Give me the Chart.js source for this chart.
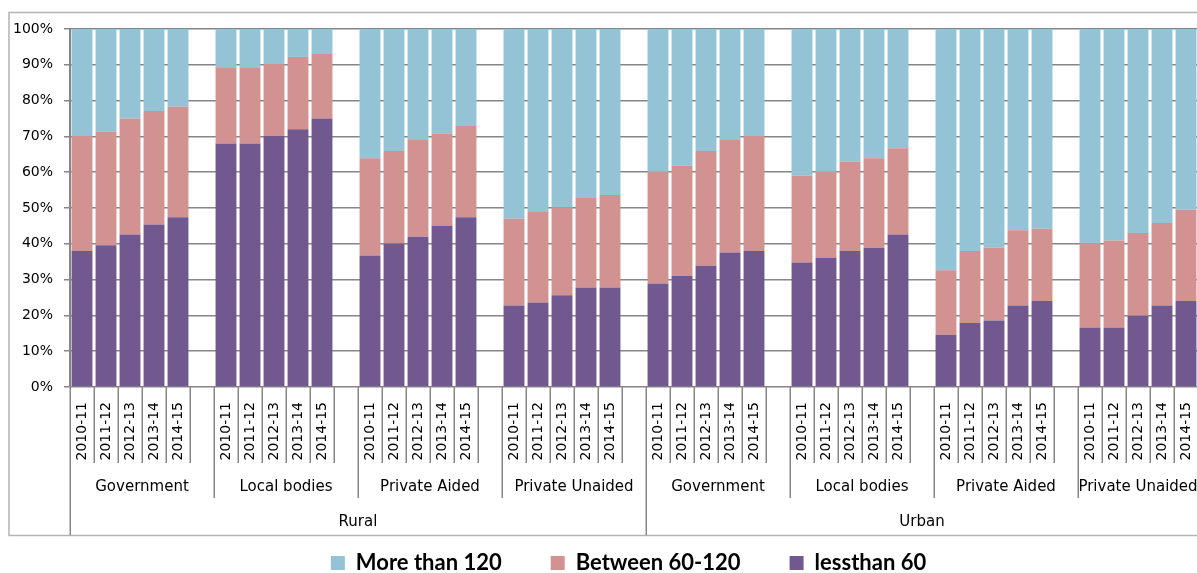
<!DOCTYPE html>
<html>
<head>
<meta charset="utf-8">
<script src="https://cdn.jsdelivr.net/npm/chart.js@4/dist/chart.umd.min.js"></script>
<style>
  html, body { margin: 0; padding: 0; background: #fff; overflow: hidden; }
  #wrap { width: 1257px; height: 584px; }
</style>
</head>
<body>
<div id="wrap"><canvas id="chart" width="1257" height="584"></canvas></div>
<script>
// Category levels
const years = ['2010-11', '2011-12', '2012-13', '2013-14', '2014-15'];
const sectors = ['Government', 'Local bodies', 'Private Aided', 'Private Unaided',
                 'Government', 'Local bodies', 'Private Aided', 'Private Unaided'];
const areas = ['Rural', 'Urban'];
const yTicks = [0, 10, 20, 30, 40, 50, 60, 70, 80, 90, 100];

// Shares in %, 5 years per sector, in the sector order above
const lessThan60 = [
  38.0, 39.6, 42.6, 45.4, 47.4,
  68.0, 68.0, 70.1, 72.0, 75.0,
  36.7, 40.1, 42.0, 45.0, 47.4,
  22.8, 23.6, 25.6, 27.8, 27.8,
  28.9, 31.0, 33.9, 37.6, 38.0,
  34.8, 36.0, 38.0, 38.9, 42.6,
  14.6, 17.9, 18.6, 22.8, 24.0,
  16.6, 16.6, 19.9, 22.8, 24.0
];
const between60to120 = [
  32.1, 31.7, 32.4, 31.7, 30.9,
  21.3, 21.3, 20.1, 20.2, 18.0,
  27.2, 25.8, 27.2, 25.8, 25.5,
  24.2, 25.5, 24.6, 25.0, 25.8,
  31.2, 30.8, 32.0, 31.6, 32.1,
  24.2, 24.1, 25.0, 25.0, 24.1,
  18.0, 20.1, 20.3, 21.0, 20.2,
  23.5, 24.3, 23.1, 23.0, 25.5
];
const moreThan120 = [
  29.9, 28.7, 25.0, 22.9, 21.7,
  10.7, 10.7, 9.8, 7.8, 7.0,
  36.1, 34.1, 30.8, 29.2, 27.1,
  53.0, 50.9, 49.8, 47.2, 46.4,
  39.9, 38.2, 34.1, 30.8, 29.9,
  41.0, 39.9, 37.0, 36.1, 33.3,
  67.4, 62.0, 61.1, 56.2, 55.8,
  59.9, 59.1, 57.0, 54.2, 50.5
];

// Build the category axis: 5 years per sector, an empty slot between sectors
const labels = [];
sectors.forEach((s, i) => {
  years.forEach((y) => labels.push(y));
  if (i < sectors.length - 1) labels.push('');
});

function withGaps(values) {
  const out = [];
  sectors.forEach((s, i) => {
    for (let k = 0; k < years.length; k++) out.push(values[i * years.length + k]);
    if (i < sectors.length - 1) out.push(null);
  });
  return out;
}

const GRID = '#868686';
const TEXT_FONT = { family: 'DejaVu Sans', size: 14 };
const GROUP_FONT = '15px "DejaVu Sans"';
const PLOT_BOTTOM = 387;

// draws the outer frame and the multi-level category labels under the axis
const multiLevelAxis = {
  id: 'multiLevelAxis',
  afterDraw(chart) {
    const { ctx, scales: { x, y } } = chart;
    const n = labels.length;
    const slot = x.getPixelForValue(1) - x.getPixelForValue(0);
    const edge = (b) => (b < n ? x.getPixelForValue(b) - slot / 2 : x.getPixelForValue(n - 1) + slot / 2);
    const base = y.getPixelForValue(0);
    const perGroup = years.length + 1;
    const perArea = perGroup * (sectors.length / areas.length);

    ctx.save();
    // outer frame
    ctx.strokeStyle = '#b3b3b3';
    ctx.lineWidth = 1.5;
    ctx.strokeRect(9, 12.5, chart.width, 523);

    // separators
    ctx.strokeStyle = GRID;
    ctx.lineWidth = 1.5;
    for (let b = 0; b <= n; b++) {
      let len = 76;
      if (b % perArea === 0) len = 148;
      else if (b % perGroup === 0) len = 111;
      const px = Math.round(edge(b)) + 0.25;
      ctx.beginPath();
      ctx.moveTo(px, base);
      ctx.lineTo(px, base + len);
      ctx.stroke();
    }

    // sector and area labels
    ctx.fillStyle = '#000';
    ctx.font = GROUP_FONT;
    ctx.textAlign = 'center';
    ctx.textBaseline = 'middle';
    sectors.forEach((s, i) => {
      const a = edge(i * perGroup);
      const b = edge(Math.min((i + 1) * perGroup, n));
      ctx.fillText(s, (a + b) / 2, base + 100);
    });
    areas.forEach((s, i) => {
      const a = edge(i * perArea);
      const b = edge(Math.min((i + 1) * perArea, n));
      ctx.fillText(s, (a + b) / 2, base + 135);
    });
    ctx.restore();
  }
};

const ctx = document.getElementById('chart').getContext('2d');
new Chart(ctx, {
  type: 'bar',
  data: {
    labels: labels,
    datasets: [
      { label: 'lessthan 60', data: withGaps(lessThan60), backgroundColor: '#71588F' },
      { label: 'Between 60-120', data: withGaps(between60to120), backgroundColor: '#D29291' },
      { label: 'More than 120', data: withGaps(moreThan120), backgroundColor: '#93C3D5' }
    ]
  },
  options: {
    responsive: false,
    animation: false,
    layout: { padding: { top: 29, left: 0, right: 0, bottom: 0 } },
    datasets: {
      bar: { barPercentage: 0.87, categoryPercentage: 1.0, borderWidth: 0 }
    },
    plugins: {
      tooltip: { enabled: false },
      legend: {
        position: 'bottom',
        reverse: true,
        labels: {
          color: '#000',
          font: { family: 'Lato', weight: 'bold', size: 22 },
          boxWidth: 14,
          boxHeight: 14,
          padding: 49
        }
      }
    },
    scales: {
      x: {
        stacked: true,
        grid: { display: false, drawTicks: false },
        border: { display: false },
        ticks: {
          autoSkip: false,
          minRotation: 90,
          maxRotation: 90,
          padding: 15,
          color: '#000',
          font: TEXT_FONT
        },
        afterFit(s) {
          s.height = s.chart.height - s.chart.legend.height - PLOT_BOTTOM;
        }
      },
      y: {
        stacked: true,
        min: 0,
        max: 100,
        afterBuildTicks(s) {
          s.ticks = yTicks.map((v) => ({ value: v }));
        },
        grid: { color: GRID, lineWidth: 1.5, tickLength: 6 },
        border: { display: true, color: GRID, width: 2 },
        ticks: {
          padding: 11,
          color: '#000',
          font: TEXT_FONT,
          callback: (v) => v + '%'
        },
        afterFit(s) { s.width = 70; }
      },
      yRight: {
        position: 'right',
        min: 0,
        max: 100,
        grid: { display: false, drawTicks: false },
        border: { display: false },
        ticks: { display: false },
        afterFit(s) { s.width = 59; }
      }
    }
  },
  plugins: [multiLevelAxis]
});
</script>
</body>
</html>
